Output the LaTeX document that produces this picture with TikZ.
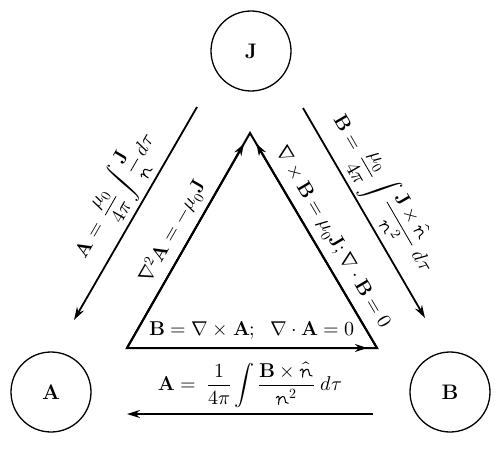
\documentclass[tikz,border=0pt]{standalone}
\usepackage{unicode-math}
\usetikzlibrary{arrows.meta,calc}
% script r, drawn by hand
\newcommand\scr{\mathord{\tikz[baseline=0pt, x=1ex, y=1ex, line width=0.12ex,
  line cap=round, line join=round]\draw[-] (0.02,0.74) .. controls (0.12,1.0) and (0.38,1.02) .. (0.36,0.68)
  -- (0.3,0) (0.33,0.4) .. controls (0.5,0.95) and (1.0,1.1) .. (1.04,0.62)
  .. controls (1.07,0.3) and (1.1,0.04) .. (1.42,0.12);}\mkern1mu}
\tikzset{
  field/.style={circle, draw, line width=1.3pt, minimum size=80pt, inner sep=0pt,
    font=\fontsize{21}{24}\selectfont\bfseries},
  relarrow/.style={line width=1.8pt, -{Stealth[length=13pt,width=8pt]}},
  tri/.style={line width=2pt, line join=miter},
  triarrow/.style={line width=2pt, -{Stealth[length=12pt,width=8pt]}},
  rel/.style={font=\fontsize{20}{23}\selectfont, sloped, above, inner sep=4pt},
}
\begin{document}
\begin{tikzpicture}[x=1pt,y=1pt]
  \useasboundingbox (0,0) rectangle (500,448);
  % the three fields
  \node[field] (J) at (251,397) {J};
  \node[field] (A) at (51,56) {A};
  \node[field] (B) at (450,56) {B};
  % ends of the outer arrows
  \coordinate (jaS) at (197,341);
  \coordinate (jaE) at (74,128);
  \coordinate (jbS) at (303,340);
  \coordinate (jbE) at (425,130);
  \coordinate (baS) at (373,34);
  \coordinate (baE) at (127,34);
  % corners of the inner triangle
  \coordinate (top) at (250,315);
  \coordinate (lft) at (127,100);
  \coordinate (rgt) at (377,100);

  \draw[relarrow] (jaS) -- node[rel, pos=0.48, inner sep=3pt]
    {$\displaystyle\mathbf{A}=\,\frac{\mu_0}{4\pi}\int\frac{\mathbf{J}}{\scr}\,d\tau$} (jaE);
  \draw[relarrow] (jbS) -- node[rel, pos=0.47, inner sep=3pt]
    {$\displaystyle\mathbf{B}=\,\frac{\mu_0}{4\pi}\int\frac{\mathbf{J}\times\hat{\scr}}{\scr^2}\,\,d\tau$} (jbE);
  \draw[relarrow] (baS) -- node[rel, pos=0.5, inner sep=6pt]
    {$\displaystyle\mathbf{A}=\;\frac{1}{4\pi}\int\frac{\mathbf{B}\times\hat{\scr}}{\scr^2}\;d\tau$} (baE);

  \draw[tri] (lft) -- node[rel, pos=0.5, inner sep=6pt] {$\nabla^2\mathbf{A}=-\mu_0\mathbf{J}$}
    (top) -- node[rel, pos=0.53, inner sep=7pt] {$\nabla\times\mathbf{B}=\mu_0\mathbf{J};\nabla\cdot\mathbf{B}=0$}
    (rgt) -- node[rel, pos=0.5, inner sep=8pt] {$\mathbf{B}=\nabla\times\mathbf{A};\;\;\nabla\cdot\mathbf{A}=0$} cycle;
  \draw[triarrow] (lft) -- ($(lft)!0.95!(top)$);
  \draw[triarrow] (rgt) -- ($(rgt)!0.95!(top)$);
  \draw[triarrow] (lft) -- ($(lft)!0.96!(rgt)$);
\end{tikzpicture}
\end{document}
